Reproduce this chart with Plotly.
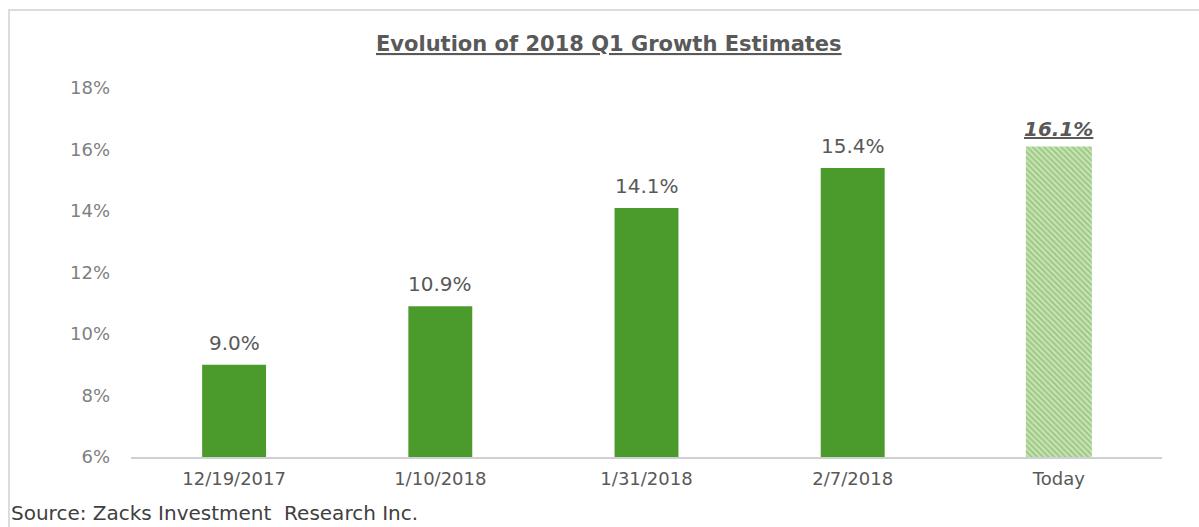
import plotly.graph_objects as go

# Consensus Q1 2018 earnings growth estimates at successive dates
dates = ["12/19/2017", "1/10/2018", "1/31/2018", "2/7/2018", "Today"]
growth = [9.0, 10.9, 14.1, 15.4, 16.1]
y_ticks = [6, 8, 10, 12, 14, 16, 18]
y_tick_text = [f"{v}%" for v in y_ticks]

GREEN = "#4b9b2c"
TEXT = "#595959"
FONT = "DejaVu Sans, Arial"

solid_x, solid_y = dates[:-1], growth[:-1]
today_x, today_y = dates[-1:], growth[-1:]

fig = go.Figure()

fig.add_trace(go.Bar(
    x=solid_x, y=solid_y, width=0.31,
    marker=dict(color=GREEN, line=dict(width=0)),
))

fig.add_trace(go.Bar(
    x=today_x, y=today_y, width=0.32,
    marker=dict(
        color="#c8e3b4",
        line=dict(width=0),
        pattern=dict(shape="\\", fgcolor="#6aaa4a", bgcolor="#c8e3b4",
                     size=4, solidity=0.45),
    ),
))

# value labels above each bar; the latest estimate is emphasised
value_labels = []
for i, (d, v) in enumerate(zip(dates, growth)):
    txt = f"{v:.1f}%"
    shift = 8
    if i == len(dates) - 1:
        txt = f"<u><b><i>{txt}</i></b></u>"
        shift = 3
    value_labels.append(dict(
        x=d, y=v, xref="x", yref="y", text=txt, showarrow=False,
        xanchor="center", yanchor="bottom", yshift=shift,
        font=dict(family=FONT, size=20, color=TEXT),
    ))

fig.update_layout(
    width=1199, height=527,
    margin=dict(l=131, r=37, t=88, b=70),
    paper_bgcolor="white", plot_bgcolor="white",
    showlegend=False, bargap=0.69,
    font=dict(family=FONT, color=TEXT),
    xaxis=dict(
        type="category", showgrid=False, ticks="",
        showline=True, linecolor="#d0d0d0", linewidth=1.5,
        tickfont=dict(family=FONT, size=18, color=TEXT), ticklabelstandoff=5,
    ),
    yaxis=dict(
        range=[6, 18], tickmode="array", tickvals=y_ticks, ticktext=y_tick_text,
        showgrid=False, zeroline=False, showline=False, ticks="",
        tickfont=dict(family=FONT, size=18, color="#7f7f7f"), ticklabelstandoff=20,
    ),
    shapes=[dict(
        type="rect", xref="paper", yref="paper",
        x0=-122 / 1031, x1=1.06, y0=-0.5, y1=1 + 78 / 369,
        line=dict(color="#dcdcdc", width=2), fillcolor="rgba(0,0,0,0)",
        layer="below",
    )],
    annotations=value_labels + [
        dict(
            text="<b><u>Evolution of 2018 Q1 Growth Estimates</u></b>",
            xref="paper", yref="paper",
            x=(609 - 131) / 1031, y=1 + 44 / 369,
            xanchor="center", yanchor="middle", showarrow=False,
            font=dict(family=FONT, size=21, color=TEXT),
        ),
        dict(
            text="Source: Zacks Investment  Research Inc.",
            xref="paper", yref="paper",
            x=-122 / 1031, y=-56 / 369,
            xanchor="left", yanchor="middle", showarrow=False,
            font=dict(family=FONT, size=20, color="#404040"),
        ),
    ],
)

fig.write_html("out.html")
